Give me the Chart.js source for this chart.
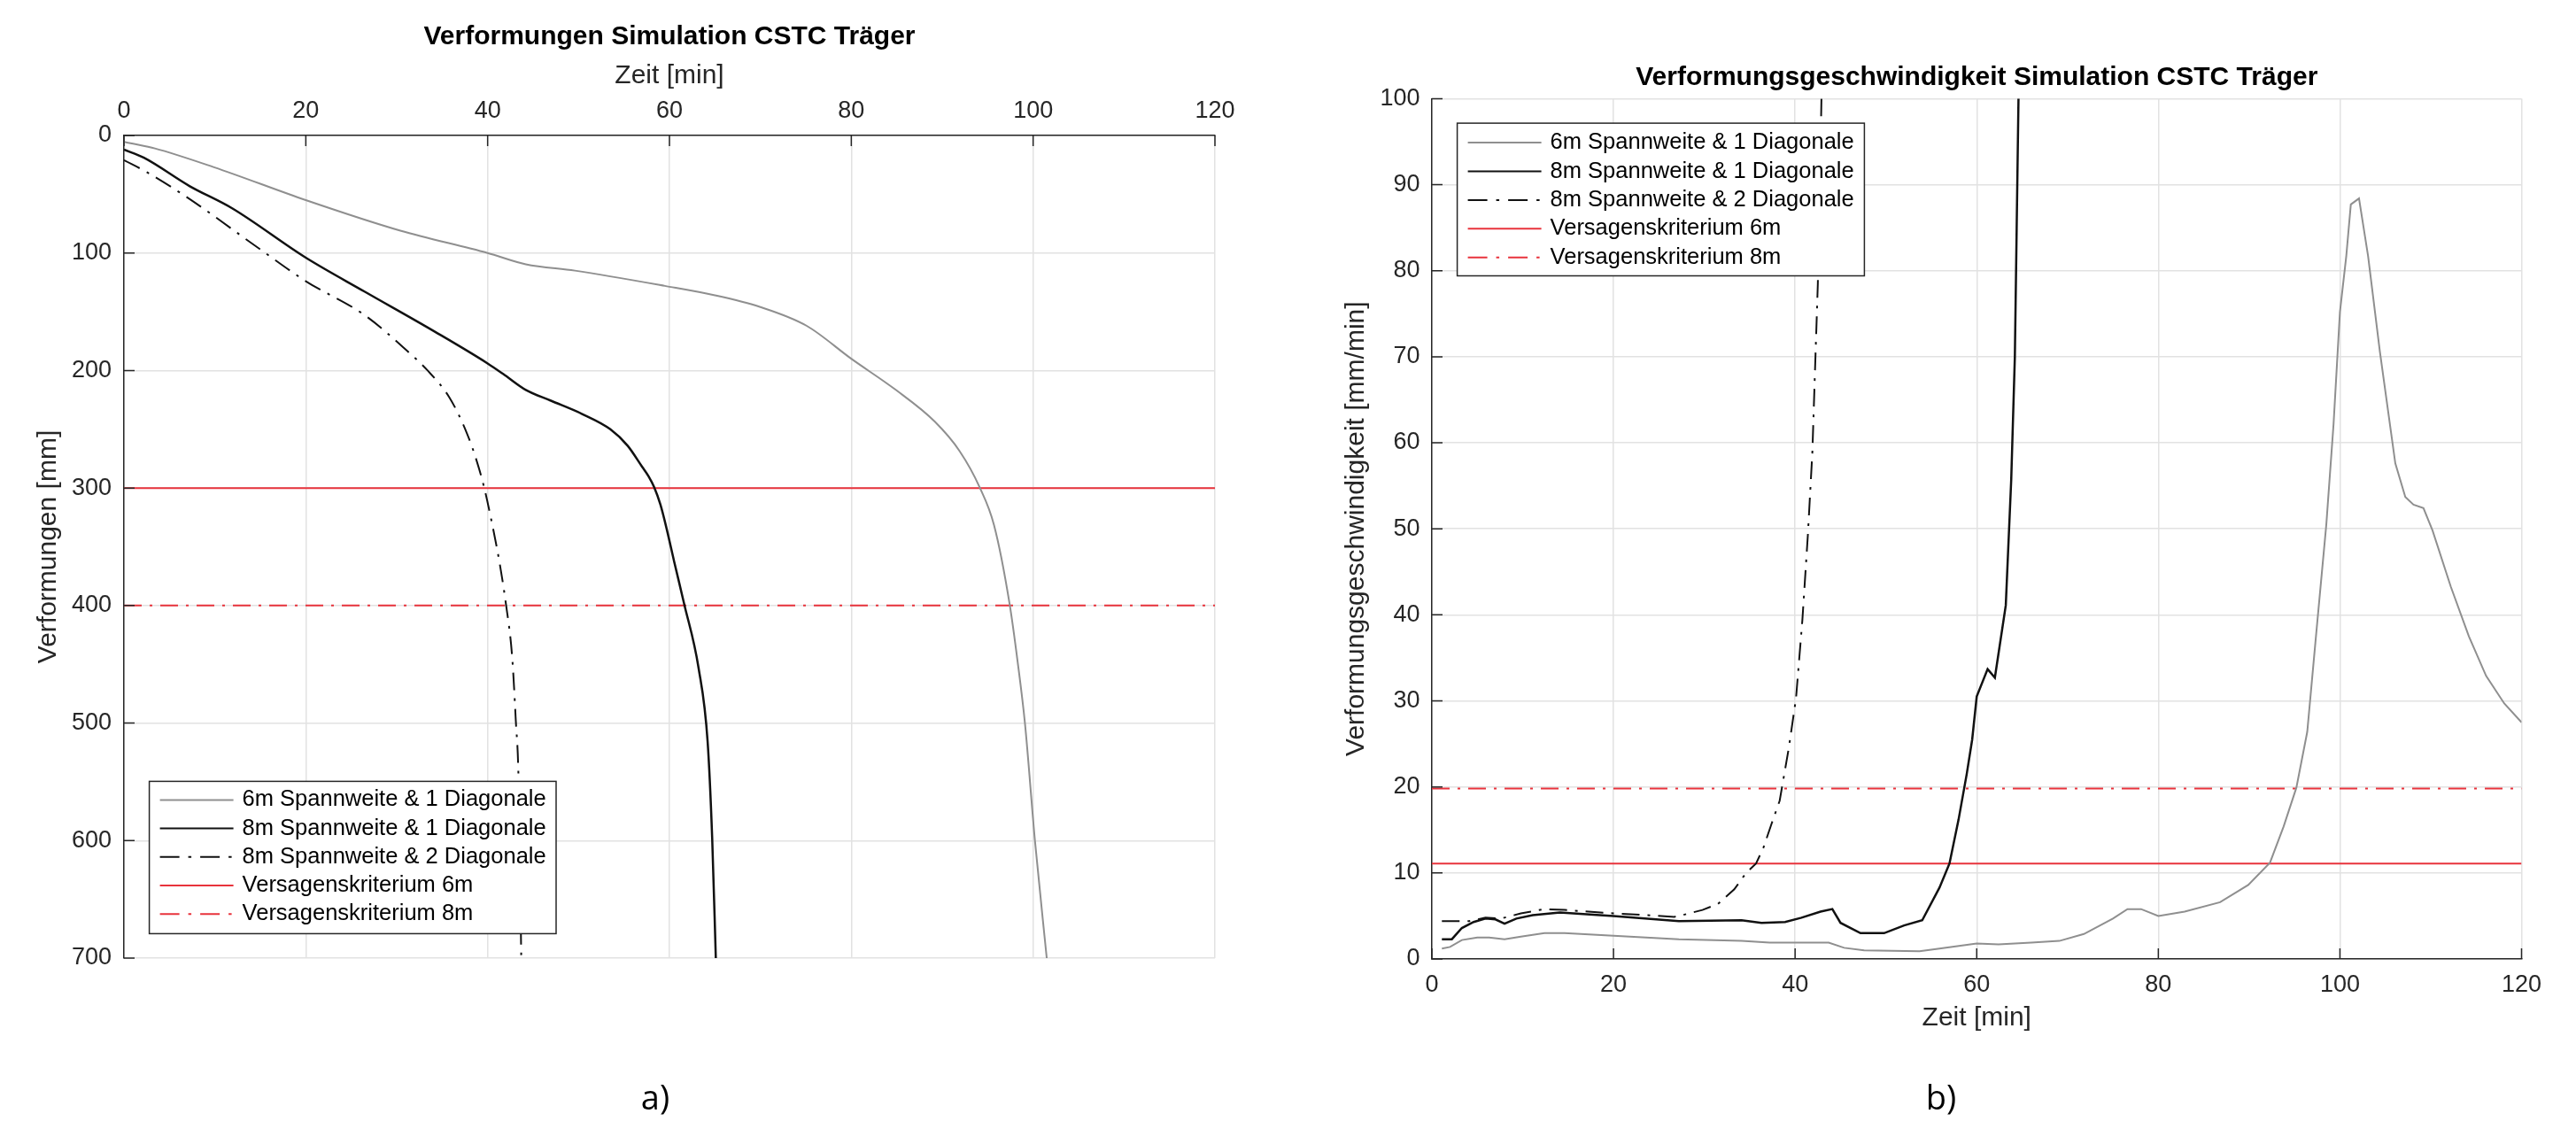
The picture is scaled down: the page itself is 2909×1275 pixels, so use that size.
<!DOCTYPE html>
<html>
<head>
<meta charset="utf-8">
<script src="https://cdn.jsdelivr.net/npm/chart.js@4.4.1/dist/chart.umd.min.js"></script>
<style>
  html, body { margin:0; padding:0; background:#fff; }
  body { width:2909px; height:1275px; position:relative; overflow:hidden; }
  #wrapA { position:absolute; left:0; top:0; width:1450px; height:1275px; }
  #wrapB { position:absolute; left:1450px; top:0; width:1459px; height:1275px; }
  .cap { position:absolute; font-family:"Open Sans", sans-serif; font-size:38px; color:#000; transform:translate(-50%,-50%); }
</style>
</head>
<body>
<div id="wrapA"><canvas id="chartA"></canvas></div>
<div id="wrapB"><canvas id="chartB"></canvas></div>
<div class="cap" style="left:740px; top:1238px;">a)</div>
<div class="cap" style="left:2192px; top:1238px;">b)</div>
<script>
// --- a) Verformungen [mm] über Zeit [min]
const zeitA_6m1 = [0, 1, 3.4, 9.9, 20, 30.4, 40, 44.2, 49.6, 59.5, 65, 70, 75.1, 80, 84.9, 89.2, 91.9, 94.1, 95.7, 97.4, 98.3, 99.1, 100.2, 101.5];
const verfA_6m1 = [5.5, 7, 11, 27, 55, 81, 100, 109.6, 115, 128, 136, 146, 162, 190, 216.5, 243.6, 268.4, 299, 331.5, 398, 448, 500, 600, 700];

const zeitA_8m1 = [0, 2.2, 7.2, 11.9, 20, 26.5, 34.2, 40, 41.9, 44.2, 46.9, 50.4, 53.5, 55.4, 57, 57.7, 58.3, 59, 59.7, 60.5, 61.6, 63.2, 64.2, 64.7, 65.1];
const verfA_8m1 = [12, 19, 43, 62, 104, 133, 167, 194, 204, 216.5, 225.5, 237, 250, 264, 282, 290, 299, 314, 335, 362, 398, 453, 516, 598, 700];

const zeitA_8m2 = [0, 2.6, 7.2, 15, 20, 26.5, 31.1, 33.4, 35.8, 37.7, 38.8, 39.6, 40.4, 41.3, 42, 42.7, 43.1, 43.4, 43.7];
const verfA_8m2 = [21, 31.6, 54, 97, 124, 153, 183, 200, 223, 253, 277, 299, 327, 363, 398, 444, 498, 548, 700];

const grenzA_6m = 300;
const grenzA_8m = 400;
const ticksA_x = [0, 20, 40, 60, 80, 100, 120];
const ticksA_y = [0, 100, 200, 300, 400, 500, 600, 700];

// --- b) Verformungsgeschwindigkeit [mm/min] über Zeit [min]
const zeitB_6m1 = [1.1, 2, 3.3, 5, 6.3, 8, 9.8, 12.4, 14.6, 20, 27.2, 34.1, 37.2, 40, 43.7, 45.4, 47.6, 53.7, 55.9, 60, 62.4, 66, 69.1, 71.8, 75, 76.6, 78.1, 80, 82.9, 86.8, 89.9, 92.3, 93.8, 95.2, 96.4, 97.3, 98.5, 99.3, 100, 100.7, 101.2, 102.1, 103.1, 104.4, 106.1, 107.2, 108.1, 109.2, 110.2, 112.2, 114.2, 116.1, 118.1, 120];
const geschB_6m1 = [1.2, 1.4, 2.2, 2.5, 2.5, 2.3, 2.6, 3.0, 3.0, 2.7, 2.3, 2.1, 1.9, 1.9, 1.9, 1.3, 1.0, 0.9, 1.2, 1.8, 1.7, 1.9, 2.1, 2.9, 4.7, 5.8, 5.8, 5.0, 5.5, 6.6, 8.6, 11.2, 15.4, 19.9, 26.4, 36.8, 50.5, 62.2, 75.2, 81.7, 87.7, 88.4, 81.7, 70.6, 57.6, 53.7, 52.8, 52.4, 49.8, 43.3, 37.5, 32.9, 29.7, 27.5];

const zeitB_8m1 = [1.1, 2.2, 3.3, 4.6, 5.9, 7, 8, 9.3, 11.1, 14.1, 20, 27.2, 34.1, 36.3, 38.9, 40.7, 42.8, 44.1, 45, 47.2, 49.8, 52, 54, 55.9, 57, 58, 58.9, 59.5, 60, 61.2, 62, 63.2, 63.8, 64.2, 64.4, 64.6, 64.8];
const geschB_8m1 = [2.3, 2.3, 3.6, 4.3, 4.7, 4.6, 4.1, 4.7, 5.1, 5.4, 5.0, 4.4, 4.5, 4.2, 4.3, 4.8, 5.5, 5.8, 4.2, 3.0, 3.0, 3.9, 4.5, 8.3, 11.1, 16.2, 21.5, 25.5, 30.5, 33.7, 32.7, 41.1, 55.7, 70, 84.9, 100, 115];

const zeitB_8m2 = [1.1, 4.1, 5.9, 7.6, 9.8, 12.4, 14.6, 20, 23.7, 26.7, 27.6, 29.8, 31.5, 33.3, 34.6, 35.7, 36.5, 37.4, 38.3, 39.3, 40.1, 40.8, 41.4, 41.9, 42.2, 42.5, 42.7, 42.9, 43.1];
const geschB_8m2 = [4.4, 4.4, 4.8, 4.7, 5.3, 5.8, 5.7, 5.3, 5.1, 4.9, 5.1, 5.7, 6.4, 8.1, 10, 11.1, 12.9, 15.7, 18.4, 24.5, 30.3, 39.4, 49.2, 58.9, 68.7, 78.4, 88.2, 100, 115];

const grenzB_6m = 11.1;
const grenzB_8m = 19.8;
const ticksB_x = [0, 20, 40, 60, 80, 100, 120];
const ticksB_y = [0, 10, 20, 30, 40, 50, 60, 70, 80, 90, 100];

const namen = ['6m Spannweite & 1 Diagonale', '8m Spannweite & 1 Diagonale', '8m Spannweite & 2 Diagonale', 'Versagenskriterium 6m', 'Versagenskriterium 8m'];

const FONT = '"Liberation Sans", Arial, Helvetica, sans-serif';
const GRAU = '#8f8f8f', SCHWARZ = '#111111', ROT = '#e8333c', ACHSE = '#262626';
const STRICHPUNKT = [20, 9, 3, 9];

Chart.defaults.font.family = FONT;
Chart.defaults.color = ACHSE;

function punkte(xs, ys){ return xs.map((x, i) => ({x: x, y: ys[i]})); }
function linie(label, data, color, width, dash, glatt){
  return { label, data, borderColor: color, borderWidth: width, borderDash: dash || [],
           pointRadius: 0, fill: false, tension: 0, cubicInterpolationMode: glatt ? 'monotone' : 'default' };
}

// inward tick marks (MATLAB style)
const innenTicks = {
  id: 'innenTicks',
  afterDraw(chart, args, o){
    const ctx = chart.ctx, a = chart.chartArea;
    const sx = chart.scales.x, sy = chart.scales.y;
    ctx.save();
    ctx.strokeStyle = ACHSE; ctx.lineWidth = 1.5;
    ctx.beginPath();
    const oben = sx.position === 'top';
    sx.ticks.forEach((t, i) => {
      const px = sx.getPixelForTick(i);
      const y0 = oben ? a.top : a.bottom;
      ctx.moveTo(px, y0); ctx.lineTo(px, y0 + (oben ? 1 : -1) * o.len);
    });
    sy.ticks.forEach((t, i) => {
      const py = sy.getPixelForTick(i);
      ctx.moveTo(a.left, py); ctx.lineTo(a.left + o.len, py);
    });
    ctx.stroke();
    ctx.restore();
  }
};

// legend box inside the plot area
const legendeBox = {
  id: 'legendeBox',
  afterDatasetsDraw(chart, args, o){
    const ctx = chart.ctx;
    ctx.save();
    ctx.fillStyle = '#fff';
    ctx.fillRect(o.x, o.y, o.w, o.h);
    ctx.strokeStyle = ACHSE; ctx.lineWidth = 1.5;
    ctx.strokeRect(o.x, o.y, o.w, o.h);
    ctx.font = '25.5px ' + FONT;
    ctx.textBaseline = 'middle';
    chart.data.datasets.forEach((ds, i) => {
      const y = o.y + o.erste + i * o.schritt;
      ctx.beginPath();
      ctx.setLineDash(ds.borderDash.length ? [22, 10, 3.5, 10] : []);
      ctx.strokeStyle = ds.borderColor; ctx.lineWidth = Math.min(ds.borderWidth, 2);
      ctx.moveTo(o.x + 12, y); ctx.lineTo(o.x + 95, y); ctx.stroke();
      ctx.setLineDash([]);
      ctx.fillStyle = '#000';
      ctx.fillText(ds.label, o.x + 105, y);
    });
    ctx.restore();
  }
};

const gitter = { color: '#e2e2e2', lineWidth: 1.5, drawTicks: false };
const rand = { display: true, color: ACHSE, width: 1.5 };

new Chart(document.getElementById('chartA'), {
  type: 'line',
  data: { datasets: [
    linie(namen[0], punkte(zeitA_6m1, verfA_6m1), GRAU, 2, null, true),
    linie(namen[1], punkte(zeitA_8m1, verfA_8m1), SCHWARZ, 2.5, null, true),
    linie(namen[2], punkte(zeitA_8m2, verfA_8m2), SCHWARZ, 2, STRICHPUNKT, true),
    linie(namen[3], punkte([ticksA_x[0], ticksA_x[ticksA_x.length - 1]], [grenzA_6m, grenzA_6m]), ROT, 2, null, false),
    linie(namen[4], punkte([ticksA_x[0], ticksA_x[ticksA_x.length - 1]], [grenzA_8m, grenzA_8m]), ROT, 2, STRICHPUNKT, false)
  ]},
  options: {
    responsive: true, maintainAspectRatio: false, animation: false, devicePixelRatio: 1,
    events: [],
    layout: { padding: { left: 0, right: 78, top: 0, bottom: 193 } },
    scales: {
      x: { type: 'linear', position: 'top', min: 0, max: 120,
           afterBuildTicks: s => { s.ticks = ticksA_x.map(v => ({value: v})); },
           afterFit: s => { s.height = 93; },
           ticks: { font: { size: 27 }, padding: 11.5, color: ACHSE },
           grid: gitter, border: rand,
           title: { display: true, text: 'Zeit [min]', font: { size: 30 }, color: ACHSE, padding: { top: 8, bottom: 0 } } },
      y: { type: 'linear', reverse: true, min: 0, max: 700,
           afterBuildTicks: s => { s.ticks = ticksA_y.map(v => ({value: v})); },
           afterFit: s => { s.width = 140; },
           ticks: { font: { size: 27 }, padding: 14, color: ACHSE },
           grid: gitter, border: rand,
           title: { display: true, text: 'Verformungen [mm]', font: { size: 30 }, color: ACHSE, padding: { top: 37, bottom: 0 } } }
    },
    plugins: {
      legend: { display: false }, tooltip: { enabled: false },
      title: { display: true, fullSize: false, text: 'Verformungen Simulation CSTC Träger', color: '#000',
               font: { size: 30, weight: 'bold' }, padding: { top: 24, bottom: 0 } },
      innenTicks: { len: 12 },
      legendeBox: { x: 168.6, y: 882.4, w: 459.4, h: 172, erste: 21, schritt: 32.2 }
    }
  },
  plugins: [legendeBox, innenTicks]
});

new Chart(document.getElementById('chartB'), {
  type: 'line',
  data: { datasets: [
    linie(namen[0], punkte(zeitB_6m1, geschB_6m1), GRAU, 2, null, false),
    linie(namen[1], punkte(zeitB_8m1, geschB_8m1), SCHWARZ, 2.5, null, false),
    linie(namen[2], punkte(zeitB_8m2, geschB_8m2), SCHWARZ, 2, STRICHPUNKT, false),
    linie(namen[3], punkte([ticksB_x[0], ticksB_x[ticksB_x.length - 1]], [grenzB_6m, grenzB_6m]), ROT, 2, null, false),
    linie(namen[4], punkte([ticksB_x[0], ticksB_x[ticksB_x.length - 1]], [grenzB_8m, grenzB_8m]), ROT, 2, STRICHPUNKT, false)
  ]},
  options: {
    responsive: true, maintainAspectRatio: false, animation: false, devicePixelRatio: 1,
    events: [],
    layout: { padding: { left: 0, right: 61.5, top: 0, bottom: 92 } },
    scales: {
      x: { type: 'linear', position: 'bottom', min: 0, max: 120,
           afterBuildTicks: s => { s.ticks = ticksB_x.map(v => ({value: v})); },
           afterFit: s => { s.height = 100; },
           ticks: { font: { size: 27 }, padding: 13.8, color: ACHSE },
           grid: gitter, border: rand,
           title: { display: true, text: 'Zeit [min]', font: { size: 30 }, color: ACHSE, padding: { top: 0, bottom: 15 } } },
      y: { type: 'linear', min: 0, max: 100,
           afterBuildTicks: s => { s.ticks = ticksB_y.map(v => ({value: v})); },
           afterFit: s => { s.width = 167; },
           ticks: { font: { size: 27 }, padding: 13.5, color: ACHSE },
           grid: gitter, border: rand,
           title: { display: true, text: 'Verformungsgeschwindigkeit [mm/min]', font: { size: 30 }, color: ACHSE, padding: { top: 64, bottom: 0 } } }
    },
    plugins: {
      legend: { display: false }, tooltip: { enabled: false },
      title: { display: true, fullSize: false, text: 'Verformungsgeschwindigkeit Simulation CSTC Träger', color: '#000',
               font: { size: 30, weight: 'bold' }, padding: { top: 70, bottom: 5.4 } },
      innenTicks: { len: 12 },
      legendeBox: { x: 195.6, y: 139.1, w: 459.8, h: 172.4, erste: 22, schritt: 32.4 }
    }
  },
  plugins: [legendeBox, innenTicks]
});
</script>
</body>
</html>
